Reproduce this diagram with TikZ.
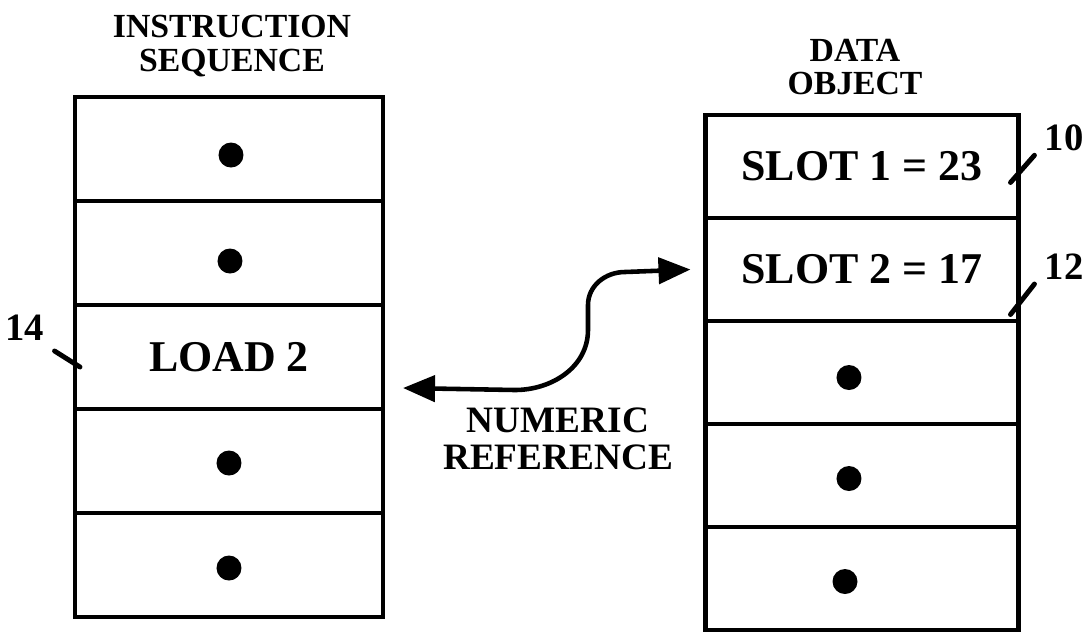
\documentclass[tikz,border=0pt]{standalone}
\usepackage{fontspec}
\setmainfont{Liberation Serif}
\usepackage{tikz}
\usetikzlibrary{arrows.meta}
\usetikzlibrary{positioning}
\usetikzlibrary{calc}

\begin{document}
\begin{tikzpicture}[
            cell/.style={draw, line width=1.3pt, minimum width=3.08cm, minimum height=1.04cm, inner sep=0pt, outer sep=0pt, font=\fontsize{12.5}{14}\selectfont\bfseries},
            slotcell/.style={cell, minimum width=3.13cm, minimum height=1.03cm},
            dot/.style={circle, fill=black, minimum size=2.5mm, inner sep=0pt},
            head/.style={align=center, font=\fontsize{9.6}{9.6}\selectfont\bfseries},
            numlabel/.style={font=\fontsize{11}{12}\selectfont\bfseries, inner sep=1pt},
            leader/.style={line width=1.4pt, line cap=round},
            refarrow/.style={{Triangle[length=3.2mm, width=2.6mm]}-{Triangle[length=3.2mm, width=2.6mm]}, line width=1.3pt}
        ]
            \useasboundingbox (0,0) rectangle (10.9,-6.37);

            % instruction sequence
            \node[cell] (ins1) at (2.29,-1.49) {};
            \node[cell] (ins2) at (2.29,-2.53) {};
            \node[cell] (ins3) at (2.29,-3.57) {LOAD 2};
            \node[cell] (ins4) at (2.29,-4.61) {};
            \node[cell] (ins5) at (2.29,-5.65) {};

            \node[dot] (insdot1) at ([xshift=0.02cm, yshift=-0.06cm]ins1) {};
            \node[dot] (insdot2) at ([xshift=0.01cm, yshift=-0.08cm]ins2) {};
            \node[dot] (insdot4) at ([yshift=-0.02cm]ins4) {};
            \node[dot] (insdot5) at ([yshift=-0.03cm]ins5) {};

            \node[head] (inshead) at (2.32,-0.46) {INSTRUCTION\\SEQUENCE};

            % data object
            \node[slotcell] (obj1) at (8.62,-1.665) {SLOT 1 = 23};
            \node[slotcell] (obj2) at (8.62,-2.695) {SLOT 2 = 17};
            \node[slotcell] (obj3) at (8.62,-3.725) {};
            \node[slotcell] (obj4) at (8.62,-4.755) {};
            \node[slotcell] (obj5) at (8.62,-5.785) {};

            \node[dot] (objdot3) at ([xshift=-0.13cm, yshift=-0.05cm]obj3) {};
            \node[dot] (objdot4) at ([xshift=-0.13cm, yshift=-0.03cm]obj4) {};
            \node[dot] (objdot5) at ([xshift=-0.17cm, yshift=-0.03cm]obj5) {};

            \node[head] (objhead) at (8.55,-0.67) {DATA\\OBJECT};

            % numeric reference
            \coordinate (refL) at ([xshift=0.2cm, yshift=-0.31cm]ins3.east);
            \coordinate (refR) at ([xshift=-0.15cm]obj2.west);
            \draw[refarrow] (refL) -- (5.15,-3.90) to[out=0, in=-90] (5.88,-3.30) -- (5.88,-3.05) to[out=90, in=180] (6.25,-2.72) -- (refR);
            \node[head, font=\fontsize{10.6}{10.6}\selectfont\bfseries] (reflabel) at (5.58,-4.39) {NUMERIC\\REFERENCE};

            % reference numerals
            \node[numlabel] (lbl10) at (10.64,-1.38) {10};
            \node[numlabel] (lbl12) at (10.64,-2.67) {12};
            \node[numlabel] (lbl14) at (0.25,-3.28) {14};
            \draw[leader] ([xshift=-0.06cm]lbl10.south west) -- ([xshift=-0.08cm, yshift=-0.16cm]obj1.east);
            \draw[leader] ([xshift=-0.06cm]lbl12.south west) -- ([xshift=-0.08cm, yshift=-0.45cm]obj2.east);
            \draw[leader] ([xshift=0.06cm, yshift=-0.06cm]lbl14.south east) -- ([xshift=0.05cm, yshift=-0.1cm]ins3.west);
        \end{tikzpicture}
\end{document}
